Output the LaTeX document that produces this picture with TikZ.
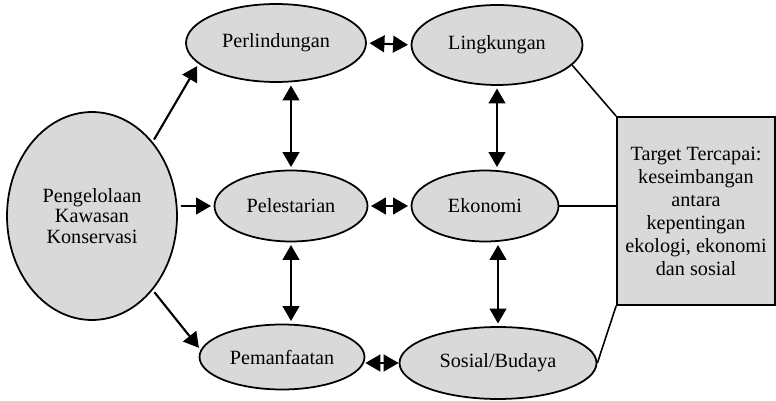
\documentclass[tikz,border=0pt]{standalone}
\usepackage{fontspec}
\setmainfont{Liberation Serif}
\usepackage{tikz}
\usetikzlibrary{arrows.meta, shapes.geometric}

\tikzset{
  blob/.style={ellipse, draw, line width=1pt, fill=black!15, inner sep=0pt,
    align=center, font=\fontsize{11.5}{13}\selectfont},
  goalbox/.style={rectangle, draw, line width=1pt, fill=black!15, inner sep=0pt,
    align=center, font=\fontsize{11.5}{13.1}\selectfont},
  link/.style={line width=1.2pt, shorten >=1.5pt, shorten <=1.5pt},
  tie/.style={line width=0.9pt}
}

\begin{document}
\begin{tikzpicture}[x=0.02cm, y=-0.02cm, >={Triangle[length=8.5pt,width=9.5pt]}]
  \useasboundingbox (0,0) rectangle (776,401);
  % nodes
  \node [blob, minimum width=3.4cm, minimum height=4.16cm] (pk) at (92,216)
    {Pengelolaan\\[-1.5pt]Kawasan\\[-1.5pt]Konservasi};
  \node [blob, minimum width=3.6cm, minimum height=1.56cm] (perl) at (276,43) {Perlindungan};
  \node [blob, minimum width=3.42cm, minimum height=1.6cm] (ling) at (497,45) {Lingkungan};
  \node [blob, minimum width=3.06cm, minimum height=1.42cm] (pele) at (291,206) {Pelestarian};
  \node [blob, minimum width=2.94cm, minimum height=1.42cm] (eko) at (485,206) {Ekonomi};
  \node [blob, minimum width=3.3cm, minimum height=1.3cm] (pem) at (282,357) {Pemanfaatan};
  \node [blob, minimum width=3.94cm, minimum height=1.44cm] (sos) at (498,363) {Sosial/Budaya};
  \node [goalbox, minimum width=3.16cm, minimum height=3.76cm] (target) at (696,211)
    {Target Tercapai:\\keseimbangan\\antara\\kepentingan\\ekologi, ekonomi\\dan sosial};

  % arrows from the left
  \draw [link, ->] (pk.north east) -- (perl.195);
  \draw [link, ->] (pk.east |- pele) -- (pele.west);
  \draw [link, ->] (pk.south east) -- (pem.175);

  % double arrows
  \draw [link, <->] (perl.east) -- (ling.west);
  \draw [link, <->] (pele.east) -- (eko.west);
  \draw [link, <->, shorten >=0pt, shorten <=0pt] (pem.east |- sos) -- (sos.west);
  \draw [link, <->] (perl.south -| pele.north) -- (pele.north);
  \draw [link, <->] (pele.south) -- (pem.north -| pele.south);
  \draw [link, <->] (ling.south) -- (eko.north -| ling.south);
  \draw [link, <->] (eko.south -| sos.north) -- (sos.north);

  % lines to the target
  \draw [tie] (ling.-15) -- (target.north west);
  \draw [tie] (eko.east) -- (eko.east -| target.west);
  \draw [tie] (sos.east) -- (target.south west);
\end{tikzpicture}
\end{document}
